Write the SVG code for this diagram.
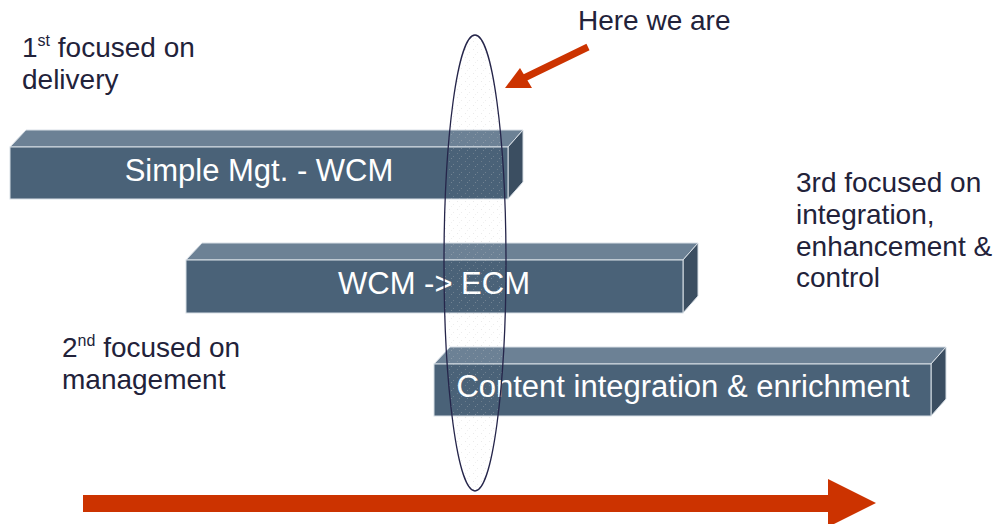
<svg xmlns="http://www.w3.org/2000/svg" width="993" height="524" viewBox="0 0 993 524">
<defs>
<style>
.front{fill:#4a6278;stroke:#d8dfe6;stroke-width:1}
.top{fill:#6c8195;stroke:#d8dfe6;stroke-width:1}
.side{fill:#3b4e61;stroke:#d8dfe6;stroke-width:1}
.bt{font-family:"Liberation Sans",Arial,sans-serif;font-size:31px;fill:#ffffff;text-anchor:middle}
.lt{font-family:"Liberation Sans",Arial,sans-serif;font-size:28px;fill:#22223a}
.sup{font-size:16px}
.red{fill:#cc3300}
</style>
<pattern id="dots" width="8" height="8" patternUnits="userSpaceOnUse">
<rect x="1" y="1" width="1" height="1" fill="#b8b8b8"/>
<rect x="5" y="4" width="1" height="1" fill="#c4c4c4"/>
<rect x="3" y="6" width="1" height="1" fill="#d0d0d0"/>
</pattern>
</defs>
<rect width="993" height="524" fill="#ffffff"/>
<g id="label-1st">
<text class="lt" x="22" y="57">1<tspan class="sup" dy="-11">st</tspan><tspan dy="11"> focused on</tspan></text>
<text class="lt" x="22" y="89">delivery</text>
</g>
<g id="label-2nd">
<text class="lt" x="62" y="357">2<tspan class="sup" dy="-11">nd</tspan><tspan dy="11"> focused on</tspan></text>
<text class="lt" x="62" y="389">management</text>
</g>
<g id="label-3rd">
<text class="lt" x="796" y="192">3rd focused on</text>
<text class="lt" x="796" y="224">integration,</text>
<text class="lt" x="796" y="256">enhancement &amp;</text>
<text class="lt" x="796" y="287">control</text>
</g>
<g id="box-simple">
<polygon class="top" points="10,147 26,130 523,130 508,147"/>
<polygon class="side" points="508,147 523,130 523,182 508,199"/>
<rect class="front" x="10" y="147" width="498" height="52"/>
<text class="bt" x="259" y="181">Simple Mgt. - WCM</text>
</g>
<g id="box-wcm-ecm">
<polygon class="top" points="186,260 202,243 698,243 683,260"/>
<polygon class="side" points="683,260 698,243 698,296 683,313"/>
<rect class="front" x="186" y="260" width="497" height="53"/>
<text class="bt" x="434" y="294">WCM -&gt; ECM</text>
</g>
<g id="box-content">
<polygon class="top" points="434,364 450,347 946,347 931,364"/>
<polygon class="side" points="931,364 946,347 946,399 931,416"/>
<rect class="front" x="434" y="364" width="497" height="52"/>
<text class="bt" x="683" y="397">Content integration &amp; enrichment</text>
</g>
<g id="here-ellipse">
<ellipse cx="475" cy="263" rx="31" ry="228" fill="url(#dots)" fill-opacity="0.3" stroke="#25254a" stroke-width="1.3"/>
</g>
<g id="here-label">
<text class="lt" x="578" y="30">Here we are</text>
</g>
<g id="connectors">
<line x1="588" y1="47" x2="520" y2="80" stroke="#cc3300" stroke-width="7"/>
<polygon class="red" points="505,88 520,68 532,88"/>
<polygon class="red" points="83,495 828,495 828,479 876,503 828,527 828,512 83,512"/>
</g>
</svg>
